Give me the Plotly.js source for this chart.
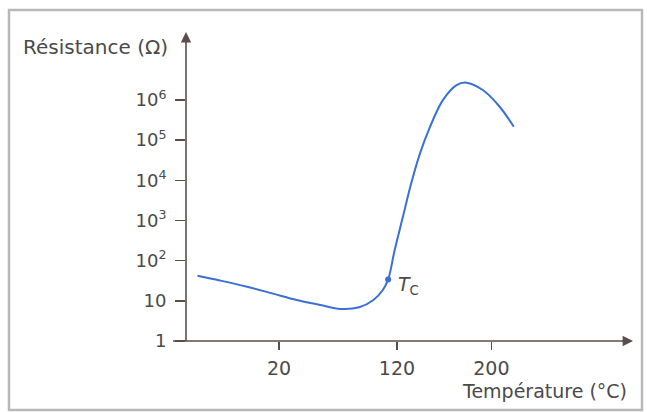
<!DOCTYPE html>
<html>
<head>
<meta charset="utf-8">
<script src="https://cdn.plot.ly/plotly-3.0.1.min.js"></script>
<style>html,body{margin:0;padding:0;background:#fff;}#chart{width:647px;height:412px;}</style>
</head>
<body>
<div id="chart"></div>
<script>
// Temperature (°C)
var temperature = [-49, -30, -7, 15, 35, 55, 72, 88, 100, 108, 112.5, 118, 125, 132, 139.5, 148, 159, 170.5, 179, 193, 207, 219];
// Resistance (Ω)
var resistance = [42, 32, 22.4, 15.1, 10.5, 7.9, 6.3, 6.9, 10.5, 18.6, 34, 182, 1230, 8300, 46800, 214000, 1000000, 2340000, 2690000, 1740000, 676000, 214000];
var tcTemp = [112.5];
var tcRes = [34];
var xTickVals = [20, 120, 200];
var xTickText = ['20', '120', '200'];
var yTickVals = [1, 10, 100, 1000, 10000, 100000, 1000000];
var yTickText = ['1', '10', '10<sup>2</sup>', '10<sup>3</sup>', '10<sup>4</sup>', '10<sup>5</sup>', '10<sup>6</sup>'];

var axisColor = '#5a4d4d';
var textColor = '#4a4a4a';
var curveColor = '#3a6fd3';
var fontFam = '"DejaVu Sans", Verdana, sans-serif';

// pixel helpers for paper coords
var L = 186, R = 633, T = 32, B = 341;
function px(x) { return (x - L) / (R - L); }
function py(y) { return (B - y) / (B - T); }

var traces = [
  {x: temperature, y: resistance, mode: 'lines', type: 'scatter',
   line: {color: curveColor, width: 2, shape: 'spline', smoothing: 1}, hoverinfo: 'skip'},
  {x: tcTemp, y: tcRes, mode: 'markers', type: 'scatter',
   marker: {color: curveColor, size: 6}, hoverinfo: 'skip'}
];

var layout = {
  width: 647, height: 412,
  margin: {l: L, r: 647 - R, t: T, b: 412 - B},
  paper_bgcolor: '#fff', plot_bgcolor: '#fff',
  showlegend: false,
  font: {family: fontFam, color: textColor, size: 18},
  xaxis: {
    range: [-58.8, 320], showgrid: false, zeroline: false, showline: false,
    tickmode: 'array', tickvals: xTickVals, ticktext: xTickText,
    ticks: 'outside', ticklen: 8, tickwidth: 1.5, tickcolor: axisColor,
    tickfont: {size: 19, color: textColor}, ticklabelstandoff: 2
  },
  yaxis: {
    type: 'log', range: [0, 7.69], showgrid: false, zeroline: false, showline: false,
    tickmode: 'array', tickvals: yTickVals, ticktext: yTickText,
    ticks: 'outside', ticklen: 10, tickwidth: 1.5, tickcolor: axisColor,
    tickfont: {size: 18, color: textColor}, ticklabelstandoff: 5
  },
  shapes: [
    {type: 'rect', xref: 'paper', yref: 'paper', x0: px(9), x1: px(642), y0: py(410), y1: py(10),
     line: {color: '#b8b8b8', width: 2.5}, layer: 'below'},
    {type: 'line', xref: 'paper', yref: 'paper', x0: px(173), x1: px(626), y0: 0, y1: 0,
     line: {color: axisColor, width: 1.6}},
    {type: 'line', xref: 'paper', yref: 'paper', x0: 0, x1: 0, y0: 0, y1: py(38),
     line: {color: axisColor, width: 1.6}}
  ],
  annotations: [
    {xref: 'paper', yref: 'paper', x: 1, y: 0, ax: -12, ay: 0, text: '', showarrow: true,
     arrowhead: 2, arrowsize: 1.3, arrowwidth: 1.6, arrowcolor: axisColor},
    {xref: 'paper', yref: 'paper', x: 0, y: 1, ax: 0, ay: 12, text: '', showarrow: true,
     arrowhead: 2, arrowsize: 1.3, arrowwidth: 1.6, arrowcolor: axisColor},
    {xref: 'paper', yref: 'paper', x: px(170), y: py(47), xanchor: 'right', yanchor: 'middle',
     text: 'Résistance (Ω)', showarrow: false, font: {size: 20, color: textColor}},
    {xref: 'paper', yref: 'paper', x: px(629), y: py(391), xanchor: 'right', yanchor: 'middle',
     text: 'Température (°C)', showarrow: false, font: {size: 19, color: textColor}},
    {xref: 'paper', yref: 'paper', x: px(396), y: py(285), xanchor: 'left', yanchor: 'middle',
     text: '<i>T</i><sub>C</sub>', showarrow: false, font: {size: 19, color: textColor}}
  ]
};

Plotly.newPlot('chart', traces, layout, {staticPlot: true, displayModeBar: false});
</script>
</body>
</html>
